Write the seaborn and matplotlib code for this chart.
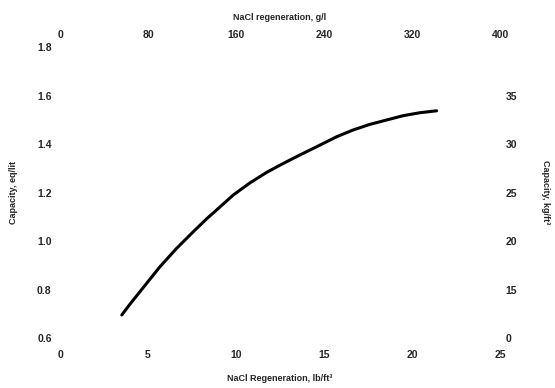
import matplotlib
matplotlib.use("Agg")
import matplotlib.pyplot as plt
import seaborn as sns
import pandas as pd

# Data
regen_lb_ft3 = [3.51, 3.98, 4.73, 5.68, 6.63, 7.57, 8.34, 8.90, 9.85, 10.80, 11.74,
                12.69, 13.64, 14.59, 15.72, 16.66, 17.61, 18.56, 19.51, 20.45, 21.40]
capacity_eq_l = [0.695, 0.740, 0.808, 0.894, 0.970, 1.038, 1.092, 1.128, 1.190, 1.240, 1.283,
                 1.320, 1.355, 1.389, 1.430, 1.458, 1.481, 1.499, 1.517, 1.529, 1.537]

bottom_ticks = [0, 5, 10, 15, 20, 25]
left_ticks = [0.6, 0.8, 1.0, 1.2, 1.4, 1.6, 1.8]
left_labels = ["0.6", "0.8", "1.0", "1.2", "1.4", "1.6", "1.8"]
top_ticks = [0, 80, 160, 240, 320, 400]
right_ticks = [10, 15, 20, 25, 30, 35]
right_labels = ["0", "15", "20", "25", "30", "35"]

sns.set_style("white")
plt.rcParams["font.family"] = ["Liberation Sans", "DejaVu Sans"]
plt.rcParams["font.weight"] = "bold"

fig = plt.figure(figsize=(5.55, 3.88), dpi=100)
ax = fig.add_axes([60 / 555, 1 - 338 / 388, 440 / 555, 291 / 388])

df = pd.DataFrame({"x": regen_lb_ft3, "y": capacity_eq_l})
sns.lineplot(data=df, x="x", y="y", ax=ax, color="black", linewidth=2.2)

ax.set_xlim(0, 25)
ax.set_ylim(0.6, 1.8)
ax.set_xticks(bottom_ticks)
ax.set_xticklabels([str(t) for t in bottom_ticks], fontsize=7.5, fontweight="bold")
ax.set_yticks(left_ticks)
ax.set_yticklabels(left_labels, fontsize=7.5, fontweight="bold")
ax.tick_params(axis="both", length=0)
ax.tick_params(axis="x", pad=9)
ax.tick_params(axis="y", pad=6)
ax.set_xlabel("NaCl Regeneration, lb/ft³", fontsize=6.5, fontweight="bold", labelpad=10)
ax.set_ylabel("Capacity, eq/lit", fontsize=6.5, fontweight="bold", labelpad=14)
for s in ax.spines.values():
    s.set_visible(False)

# top axis
axt = ax.twiny()
axt.set_xlim(0, 400)
axt.set_xticks(top_ticks)
axt.set_xticklabels([str(t) for t in top_ticks], fontsize=7.5, fontweight="bold")
axt.tick_params(axis="x", length=0, pad=5)
axt.set_xlabel("NaCl regeneration, g/l", fontsize=6.5, fontweight="bold", labelpad=7)
for s in axt.spines.values():
    s.set_visible(False)

# right axis
axr = ax.twinx()
axr.set_ylim(10, 40)
axr.set_yticks(right_ticks)
axr.set_yticklabels(right_labels, fontsize=7.5, fontweight="bold")
axr.tick_params(axis="y", length=0, pad=4)
axr.set_ylabel("Capacity, kg/ft³", fontsize=6.5, fontweight="bold", rotation=270, labelpad=24)
for s in axr.spines.values():
    s.set_visible(False)

ax.set_facecolor("white")
axt.patch.set_visible(False)
axr.patch.set_visible(False)

fig.savefig("out.png", dpi=100, facecolor="white")
